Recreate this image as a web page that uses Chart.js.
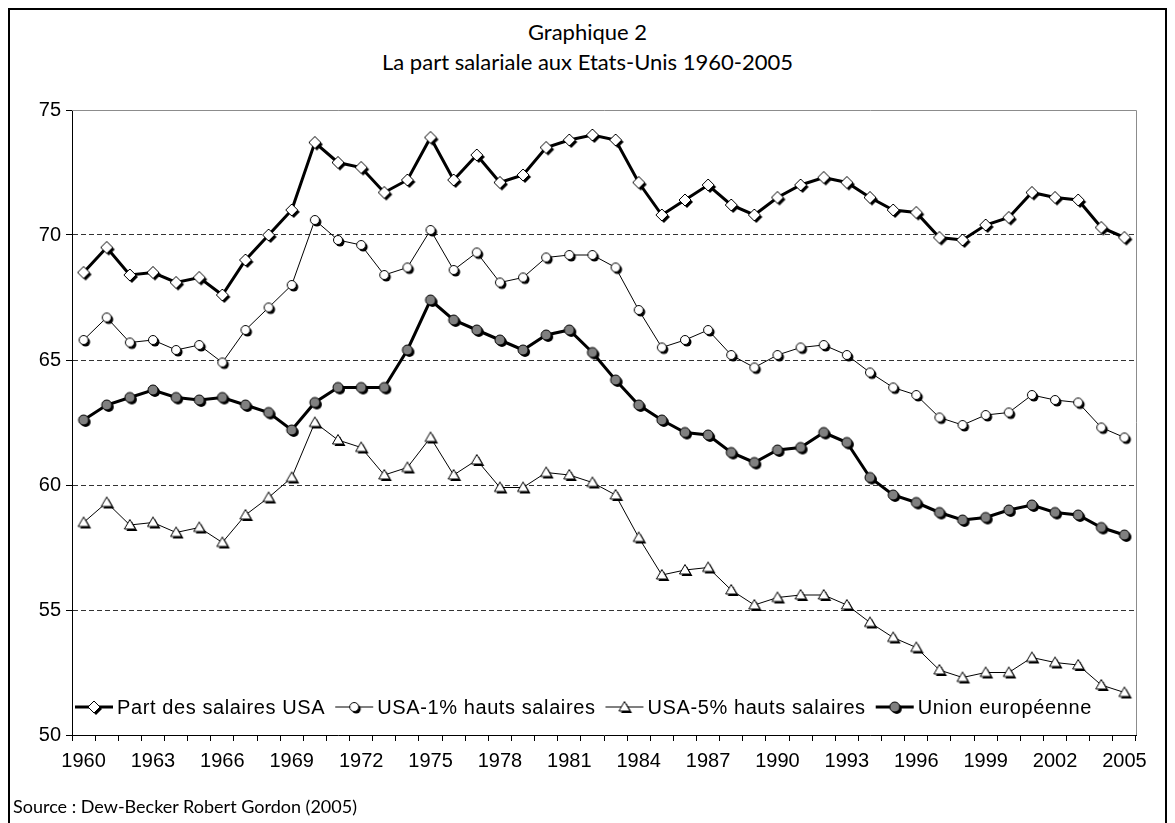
<!DOCTYPE html>
<html>
<head>
<meta charset="utf-8">
<script src="https://cdn.jsdelivr.net/npm/chart.js@4.4.0/dist/chart.umd.min.js"></script>
<style>
  html, body { margin: 0; padding: 0; background: #fff; }
  #wrap { position: relative; width: 1175px; height: 823px; overflow: hidden; }
  #frame { position: absolute; left: 8px; top: 8px; width: 1159px; height: 840px; border: 2px solid #000; box-sizing: border-box; }
  .title { position: absolute; left: 0; width: 1175px; text-align: center; font-family: Lato, sans-serif; font-size: 22px; color: #000; }
  #source { position: absolute; left: 13px; top: 795px; font-family: Lato, sans-serif; font-size: 18px; color: #000; }
  canvas { position: absolute; left: 0; top: 0; }
</style>
</head>
<body>
<div id="wrap">
  <div id="frame"></div>
  <div class="title" style="top:18px">Graphique 2</div>
  <div class="title" style="top:48px">La part salariale aux Etats-Unis 1960-2005</div>
  <canvas id="chart" width="1175" height="823"></canvas>
  <div id="source">Source : Dew-Becker Robert Gordon (2005)</div>
</div>
<script>
// données
const years = ['1960','1961','1962','1963','1964','1965','1966','1967','1968','1969',
  '1970','1971','1972','1973','1974','1975','1976','1977','1978','1979',
  '1980','1981','1982','1983','1984','1985','1986','1987','1988','1989',
  '1990','1991','1992','1993','1994','1995','1996','1997','1998','1999',
  '2000','2001','2002','2003','2004','2005'];

const partUSA = [68.5,69.5,68.4,68.5,68.1,68.3,67.6,69.0,70.0,71.0,
  73.7,72.9,72.7,71.7,72.2,73.9,72.2,73.2,72.1,72.4,
  73.5,73.8,74.0,73.8,72.1,70.8,71.4,72.0,71.2,70.8,
  71.5,72.0,72.3,72.1,71.5,71.0,70.9,69.9,69.8,70.4,
  70.7,71.7,71.5,71.4,70.3,69.9];

const top1 = [65.8,66.7,65.7,65.8,65.4,65.6,64.9,66.2,67.1,68.0,
  70.6,69.8,69.6,68.4,68.7,70.2,68.6,69.3,68.1,68.3,
  69.1,69.2,69.2,68.7,67.0,65.5,65.8,66.2,65.2,64.7,
  65.2,65.5,65.6,65.2,64.5,63.9,63.6,62.7,62.4,62.8,
  62.9,63.6,63.4,63.3,62.3,61.9];

const top5 = [58.5,59.3,58.4,58.5,58.1,58.3,57.7,58.8,59.5,60.3,
  62.5,61.8,61.5,60.4,60.7,61.9,60.4,61.0,59.9,59.9,
  60.5,60.4,60.1,59.6,57.9,56.4,56.6,56.7,55.8,55.2,
  55.5,55.6,55.6,55.2,54.5,53.9,53.5,52.6,52.3,52.5,
  52.5,53.1,52.9,52.8,52.0,51.7];

const unionEur = [62.6,63.2,63.5,63.8,63.5,63.4,63.5,63.2,62.9,62.2,
  63.3,63.9,63.9,63.9,65.4,67.4,66.6,66.2,65.8,65.4,
  66.0,66.2,65.3,64.2,63.2,62.6,62.1,62.0,61.3,60.9,
  61.4,61.5,62.1,61.7,60.3,59.6,59.3,58.9,58.6,58.7,
  59.0,59.2,58.9,58.8,58.3,58.0];

const seriesNames = ['Part des salaires USA', 'USA-1% hauts salaires', 'USA-5% hauts salaires', 'Union européenne'];
const yTicks = [50, 55, 60, 65, 70, 75];

// marqueurs style Excel, avec ombre noire en bas à droite
function marker(kind, fill) {
  const c = document.createElement('canvas');
  c.width = 20; c.height = 20;
  const g = c.getContext('2d');
  const shape = (cx, cy) => {
    g.beginPath();
    if (kind === 'diamond') {
      g.moveTo(cx, cy - 6); g.lineTo(cx + 6, cy); g.lineTo(cx, cy + 6); g.lineTo(cx - 6, cy); g.closePath();
    } else if (kind === 'triangle') {
      g.moveTo(cx, cy - 5.5); g.lineTo(cx + 5.5, cy + 4); g.lineTo(cx - 5.5, cy + 4); g.closePath();
    } else {
      g.arc(cx, cy, kind === 'dot' ? 5 : 4.5, 0, Math.PI * 2);
    }
  };
  shape(12, 12);
  g.fillStyle = '#000'; g.fill();
  shape(10, 10);
  g.fillStyle = fill; g.fill();
  g.lineWidth = 1; g.strokeStyle = '#000'; g.stroke();
  return c;
}

const markers = [marker('diamond', '#fff'), marker('circle', '#fff'), marker('triangle', '#fff'), marker('dot', '#808080')];
const widths = [3, 1, 1, 3];
const values = [partUSA, top1, top5, unionEur];

const datasets = values.map((v, i) => ({
  label: seriesNames[i],
  data: v,
  borderColor: '#000',
  borderWidth: widths[i],
  pointStyle: markers[i],
  pointRadius: 6,
  tension: 0,
  fill: false
}));

const TEXT_FONT = '"Liberation Sans", Arial, sans-serif';

const frameLines = {
  id: 'frameLines',
  beforeDatasetsDraw(chart) {
    const a = chart.chartArea, ctx = chart.ctx;
    ctx.save();
    ctx.strokeStyle = '#8c8c8c';
    ctx.lineWidth = 1;
    ctx.beginPath();
    ctx.moveTo(a.left, a.top + 0.5); ctx.lineTo(a.right + 0.5, a.top + 0.5); ctx.lineTo(a.right + 0.5, a.bottom);
    ctx.stroke();
    ctx.restore();
  }
};

// légende dans la zone du graphique, en bas
const insideLegend = {
  id: 'insideLegend',
  afterDraw(chart) {
    const ctx = chart.ctx;
    const y = 707;
    let x = 75;
    ctx.save();
    ctx.font = '20px ' + TEXT_FONT;
    ctx.letterSpacing = '0.6px';
    ctx.textBaseline = 'middle';
    ctx.fillStyle = '#000';
    chart.data.datasets.forEach((ds) => {
      ctx.strokeStyle = '#000';
      ctx.lineWidth = ds.borderWidth;
      ctx.beginPath(); ctx.moveTo(x, y); ctx.lineTo(x + 38, y); ctx.stroke();
      ctx.drawImage(ds.pointStyle, x + 19 - 10, y - 10);
      ctx.fillText(ds.label, x + 42, y + 1);
      x += 42 + ctx.measureText(ds.label).width + 10;
    });
    ctx.restore();
  }
};

new Chart(document.getElementById('chart'), {
  type: 'line',
  data: { labels: years, datasets: datasets },
  plugins: [frameLines, insideLegend],
  options: {
    responsive: false,
    animation: false,
    layout: { padding: { left: 10, right: 39, top: 110, bottom: 38 } },
    plugins: { legend: { display: false }, title: { display: false }, tooltip: { enabled: false } },
    scales: {
      x: {
        offset: true,
        afterFit: (s) => { s.height = 50; },
        grid: { offset: true, drawOnChartArea: false, drawTicks: true, tickLength: 6, tickColor: '#000', color: '#000' },
        border: { display: true, color: '#000', width: 1 },
        ticks: {
          autoSkip: false, maxRotation: 0, minRotation: 0, padding: 8,
          color: '#000', font: { family: TEXT_FONT, size: 20 },
          callback: (v, i) => (i % 3 === 0 ? years[i] : '')
        }
      },
      y: {
        min: yTicks[0],
        max: yTicks[yTicks.length - 1],
        afterFit: (s) => { s.width = 62; },
        afterBuildTicks: (s) => { s.ticks = yTicks.map(v => ({ value: v })); },
        grid: {
          color: (c) => (c.tick && (c.tick.value === 50 || c.tick.value === 75) ? 'rgba(0,0,0,0)' : '#333'),
          lineWidth: 1, tickLength: 6, tickColor: '#000', tickBorderDash: []
        },
        border: { display: true, color: '#000', width: 1, dash: [5, 3] },
        ticks: { color: '#000', padding: 5, font: { family: TEXT_FONT, size: 20 } }
      }
    }
  }
});
</script>
</body>
</html>
